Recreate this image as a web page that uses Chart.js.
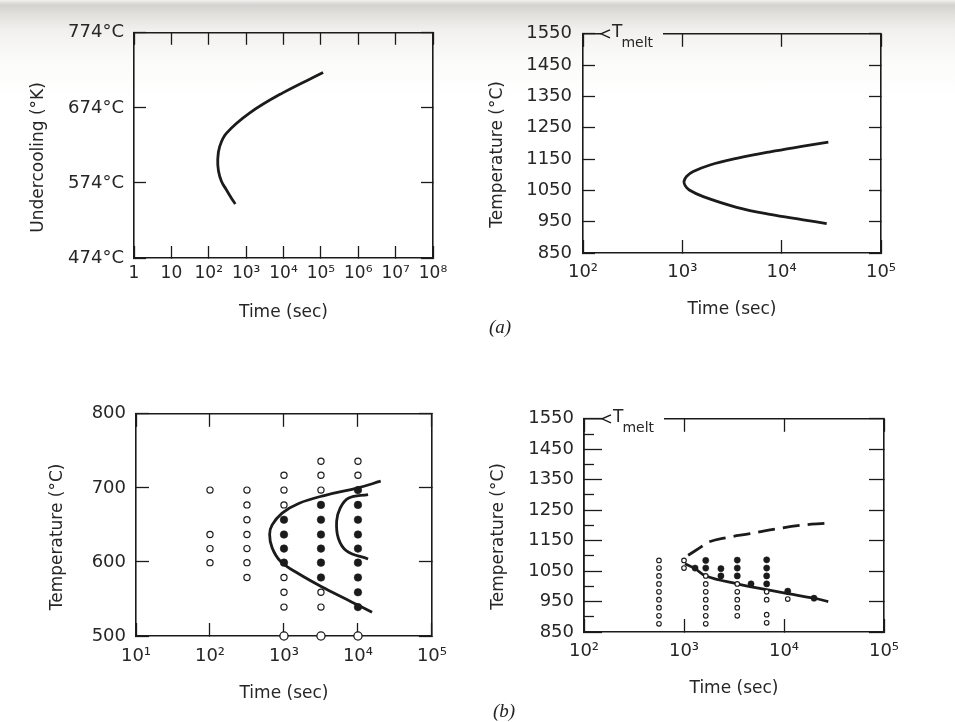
<!DOCTYPE html>
<html><head><meta charset="utf-8">
<script src="https://cdn.jsdelivr.net/npm/chart.js@4.4.0/dist/chart.umd.min.js"></script>
<style>
html,body{margin:0;padding:0;}
body{width:955px;height:722px;position:relative;overflow:hidden;
 background:linear-gradient(to bottom,#f2f1ef 0px,#d4d2ce 5px,#e2e0dc 14px,#f1f0ee 30px,#fbfbfa 60px,#ffffff 100px);}
canvas{position:absolute;}
.lab{position:absolute;font:italic 19px "Liberation Serif",serif;color:#222;}
</style></head><body>
<canvas id="c1" width="470" height="345" style="left:0;top:0"></canvas>
<canvas id="c2" width="485" height="345" style="left:470px;top:0"></canvas>
<canvas id="c3" width="470" height="342" style="left:0;top:380px"></canvas>
<canvas id="c4" width="485" height="342" style="left:470px;top:380px"></canvas>
<div class="lab" style="left:489px;top:316px">(a)</div>
<div class="lab" style="left:493px;top:700px">(b)</div>
<script>
// ---------- Panel (a) left: undercooling vs time ----------
const a1Time = [513, 390, 295, 220, 182, 174, 195, 295, 1230, 9550, 114800];
const a1Undercool = [546, 555, 565, 576, 590, 605, 622, 640, 667, 694, 721];
const a1XTicks = [1, 10, 1e2, 1e3, 1e4, 1e5, 1e6, 1e7, 1e8];
const a1XLabels = ['1', '10', '10²', '10³', '10⁴', '10⁵', '10⁶', '10⁷', '10⁸'];
const a1YTicks = [474, 574, 674, 774];
const a1YLabels = ['474°C', '574°C', '674°C', '774°C'];

// ---------- Panel (a) right: temperature vs time ----------
const a2Time = [29500, 16500, 7640, 3520, 1900, 1288, 1107, 1040, 1064, 1175, 1625, 3520, 7640, 16500, 28400];
const a2Temp = [1204, 1191, 1173, 1152, 1131, 1110, 1095, 1079, 1066, 1051, 1030, 996, 973, 956, 944];
const tXTicks = [1e2, 1e3, 1e4, 1e5];
const tXLabels = ['10²', '10³', '10⁴', '10⁵'];
const tYTicks = [850, 950, 1050, 1150, 1250, 1350, 1450, 1550];
const tYLabels = ['850', '950', '1050', '1150', '1250', '1350', '1450', '1550'];
const tYMinorTicks = [900, 1000, 1100, 1200, 1300, 1400, 1500];

// ---------- Panel (b) left: experimental points ----------
const b1ColTime = [100, 316, 1000, 3162, 10000];
const b1OpenTemp = [[697, 637, 618, 599], [697, 677, 657, 637, 618, 599, 579], [717, 697, 677, 579, 559, 539], [736, 717, 697, 559, 539], [736, 717]];
const b1FilledTemp = [[], [], [657, 637, 618, 599], [677, 657, 637, 618, 599, 579], [697, 677, 657, 637, 618, 599, 579, 559, 539]];
const b1AxisTime = [1000, 3162, 10000];
const b1AxisTemp = [500, 500, 500];
const b1OuterTime = [20300, 10000, 3600, 1580, 944, 692, 640, 692, 897, 1580, 3600, 8180, 15500];
const b1OuterTemp = [709, 700, 690, 679, 666, 650, 637, 619, 601, 584, 564, 546, 532];
const b1InnerTime = [13700, 7400, 5710, 5150, 5430, 7010, 13700];
const b1InnerTemp = [691, 686, 672, 655, 632, 615, 604];
const b1XTicks = [1e1, 1e2, 1e3, 1e4, 1e5];
const b1XLabels = ['10¹', '10²', '10³', '10⁴', '10⁵'];
const b1YTicks = [500, 600, 700, 800];
const b1YLabels = ['500', '600', '700', '800'];

// ---------- Panel (b) right: experimental points ----------
const b2ColTime = [562, 1000, 1290, 1650, 2340, 3410, 4680, 6710, 10900, 19950];
const b2OpenTemp = [[1085, 1060, 1034, 1008, 982, 956, 930, 903, 877], [1085, 1060], [], [1034, 1008, 982, 956, 930, 903, 877], [], [1008, 982, 956, 930, 903], [], [982, 956, 907, 880], [958], []];
const b2FilledTemp = [[], [], [1060], [1085, 1060], [1058, 1034], [1086, 1060, 1034], [1008], [1087, 1060, 1034, 1008], [984], [961]];
const b2DashTime = [1100, 1445, 1750, 2670, 4570, 8130, 14450, 26700];
const b2DashTemp = [1102, 1127, 1145, 1160, 1173, 1188, 1200, 1207];
const b2SolidTime = [1023, 1290, 1650, 3410, 6710, 10900, 19950, 27700];
const b2SolidTemp = [1074, 1058, 1034, 1008, 989, 976, 961, 950];

const FONT = '"DejaVu Sans", "Liberation Sans", sans-serif';
const INK = '#1b1b1b';
const TXT = '#262626';

function pts(xs, ys) { return xs.map((x, i) => ({ x: x, y: ys[i] })); }
function colPts(times, temps) { const out = []; times.forEach((t, i) => temps[i].forEach(v => out.push({ x: t, y: v }))); return out; }
function tickScale(ticks) { return s => { s.ticks = ticks.map(v => ({ value: v })); }; }

function curve(data, dash) {
  return { data: data, showLine: true, pointRadius: 0, pointHoverRadius: 0, borderColor: INK, borderWidth: 2.8,
    borderDash: dash || [], tension: 0.4, fill: false, clip: false };
}
function dots(data, filled, r, lw) {
  return { data: data, showLine: false, pointRadius: r, pointHoverRadius: r, pointStyle: 'circle',
    pointBackgroundColor: filled ? INK : '#ffffff', pointBorderColor: INK, pointBorderWidth: filled ? 0.5 : lw, clip: false };
}

const yTitlePlugin = {
  id: 'yTitle',
  afterDraw(chart, args, o) {
    if (!o || !o.text) return;
    const ctx = chart.ctx, a = chart.chartArea;
    ctx.save();
    ctx.font = '17px ' + FONT; ctx.fillStyle = TXT; ctx.textAlign = 'center'; ctx.textBaseline = 'middle';
    ctx.translate(o.x, (a.top + a.bottom) / 2 + o.dy);
    ctx.rotate(-Math.PI / 2);
    ctx.fillText(o.text, 0, 0);
    ctx.restore();
  }
};
const tmeltPlugin = {
  id: 'tmelt',
  afterDraw(chart, args, o) {
    if (!o || !o.display) return;
    const ctx = chart.ctx, a = chart.chartArea, y = a.top;
    ctx.save();
    ctx.strokeStyle = INK; ctx.lineWidth = 1.6;
    ctx.beginPath();
    ctx.moveTo(a.left, y); ctx.lineTo(a.left + o.tip, y);
    ctx.moveTo(a.left + o.gapEnd, y); ctx.lineTo(a.right, y);
    ctx.stroke();
    ctx.lineWidth = 1.4;
    ctx.beginPath();
    ctx.moveTo(a.left + o.tip + 9, y - 4); ctx.lineTo(a.left + o.tip, y); ctx.lineTo(a.left + o.tip + 9, y + 4);
    ctx.stroke();
    ctx.fillStyle = TXT; ctx.textAlign = 'left'; ctx.textBaseline = 'alphabetic';
    ctx.font = '17px ' + FONT;
    const tx = a.left + o.tip + 11;
    ctx.fillText('T', tx, y + 3);
    const tw = ctx.measureText('T').width;
    ctx.font = '14px ' + FONT;
    ctx.fillText('melt', tx + tw - 1, y + 13);
    ctx.restore();
  }
};

function makePanel(id, g) {
  const tl = g.tl;
  const gridOpt = len => ({ drawOnChartArea: false, drawTicks: true, tickLength: -len, tickColor: INK, tickWidth: 1.3, color: INK });
  const border = { display: true, color: INK, width: 1.6 };
  const scales = {
    x: { type: 'logarithmic', position: 'bottom', min: g.xMin, max: g.xMax,
      afterBuildTicks: tickScale(g.xTicks), afterFit: s => { s.height = g.ch - g.B; },
      ticks: { autoSkip: false, maxRotation: 0, minRotation: 0, padding: g.xPad, color: TXT, font: { family: FONT, size: g.xFont }, callback: (v, i) => g.xLabels[i] },
      grid: gridOpt(tl.bottom), border: border,
      title: { display: true, text: 'Time (sec)', color: TXT, font: { family: FONT, size: 17 }, padding: { top: 0, bottom: g.xTitlePad } } },
    xTop: { type: 'logarithmic', position: 'top', min: g.xMin, max: g.xMax,
      afterBuildTicks: tickScale(g.xTopTicks), afterFit: s => { s.height = 0; },
      ticks: { display: false }, grid: gridOpt(tl.top), border: Object.assign({}, border, { display: !g.tmelt }) },
    y: { type: 'linear', position: 'left', weight: 1, min: g.yMin, max: g.yMax,
      afterBuildTicks: tickScale(g.yTicks), afterFit: s => { s.width = g.L; },
      ticks: { padding: g.yPad, color: TXT, font: { family: FONT, size: g.yFont }, callback: (v, i) => g.yLabels[i] },
      grid: gridOpt(tl.left), border: border },
    yRight: { type: 'linear', position: 'right', min: g.yMin, max: g.yMax,
      afterBuildTicks: tickScale(g.yRightTicks), afterFit: s => { s.width = 0; },
      ticks: { display: false }, grid: gridOpt(tl.right), border: border }
  };
  if (g.yMinorTicks) {
    scales.yMinor = { type: 'linear', position: 'left', weight: 0, min: g.yMin, max: g.yMax,
      afterBuildTicks: tickScale(g.yMinorTicks), afterFit: s => { s.width = 0; },
      ticks: { display: false }, grid: gridOpt(tl.minor), border: border };
  }
  return new Chart(document.getElementById(id), {
    type: 'scatter',
    data: { datasets: g.datasets },
    options: {
      responsive: false, animation: false, events: [],
      layout: { autoPadding: false, padding: { left: 0, top: g.T, right: g.cw - g.R, bottom: 0 } },
      scales: scales,
      plugins: { legend: { display: false }, tooltip: { enabled: false },
        yTitle: { text: g.yTitle, x: g.yTitleX, dy: g.yTitleDy },
        tmelt: { display: !!g.tmelt, tip: 18, gapEnd: 80 } }
    },
    plugins: [yTitlePlugin, tmeltPlugin]
  });
}

// Panel (a) left
makePanel('c1', {
  cw: 470, ch: 345, L: 134, T: 32, R: 433, B: 258,
  xMin: 1, xMax: 1e8, xTicks: a1XTicks, xTopTicks: a1XTicks, xLabels: a1XLabels, xFont: 17, xPad: 17, xTitlePad: 22,
  yMin: 474, yMax: 774, yTicks: a1YTicks, yRightTicks: a1YTicks, yLabels: a1YLabels, yFont: 18, yPad: 22,
  tl: { top: 12, bottom: 12, left: 12, right: 12 },
  yTitle: 'Undercooling (°K)', yTitleX: 39, yTitleDy: 12,
  datasets: [curve(pts(a1Time, a1Undercool))]
});
// Panel (a) right
makePanel('c2', {
  cw: 485, ch: 345, L: 113, T: 29, R: 411, B: 253, tmelt: true,
  xMin: 1e2, xMax: 1e5, xTicks: tXTicks, xTopTicks: tXTicks, xLabels: tXLabels, xFont: 18, xPad: 22, xTitlePad: 25,
  yMin: 850, yMax: 1550, yTicks: tYTicks, yRightTicks: tYTicks, yLabels: tYLabels, yFont: 18, yPad: 23,
  tl: { top: 13, bottom: 13, left: 12, right: 12 },
  yTitle: 'Temperature (°C)', yTitleX: 28, yTitleDy: 11,
  datasets: [curve(pts(a2Time, a2Temp))]
});
// Panel (b) left
makePanel('c3', {
  cw: 470, ch: 342, L: 136, T: 31, R: 434, B: 256,
  xMin: 1e1, xMax: 1e5, xTicks: b1XTicks, xTopTicks: b1XTicks, xLabels: b1XLabels, xFont: 18, xPad: 23, xTitlePad: 18,
  yMin: 500, yMax: 800, yTicks: b1YTicks, yRightTicks: b1YTicks, yLabels: b1YLabels, yFont: 18, yPad: 23,
  tl: { top: 13, bottom: 13, left: 13, right: 13 },
  yTitle: 'Temperature (°C)', yTitleX: 58, yTitleDy: 12,
  datasets: [
    dots(colPts(b1ColTime, b1OpenTemp), false, 3.1, 1.2),
    dots(colPts(b1ColTime, b1FilledTemp), true, 3.8, 0),
    dots(pts(b1AxisTime, b1AxisTemp), false, 4.1, 1.3),
    curve(pts(b1OuterTime, b1OuterTemp)),
    curve(pts(b1InnerTime, b1InnerTemp))
  ]
});
// Panel (b) right
makePanel('c4', {
  cw: 485, ch: 342, L: 114, T: 29, R: 414, B: 252, tmelt: true,
  xMin: 1e2, xMax: 1e5, xTicks: tXTicks, xTopTicks: tXTicks, xLabels: tXLabels, xFont: 18, xPad: 22, xTitlePad: 23,
  yMin: 850, yMax: 1550, yTicks: tYTicks, yRightTicks: tYTicks, yMinorTicks: tYMinorTicks, yLabels: tYLabels, yFont: 18, yPad: 28,
  tl: { top: 13, bottom: 13, left: 18, right: 15, minor: 10 },
  yTitle: 'Temperature (°C)', yTitleX: 29, yTitleDy: 11,
  datasets: [
    dots(colPts(b2ColTime, b2OpenTemp), false, 2.3, 1.1),
    dots(colPts(b2ColTime, b2FilledTemp), true, 3.1, 0),
    curve(pts(b2SolidTime, b2SolidTemp)),
    curve(pts(b2DashTime, b2DashTemp), [17, 8])
  ]
});
</script>
</body></html>
